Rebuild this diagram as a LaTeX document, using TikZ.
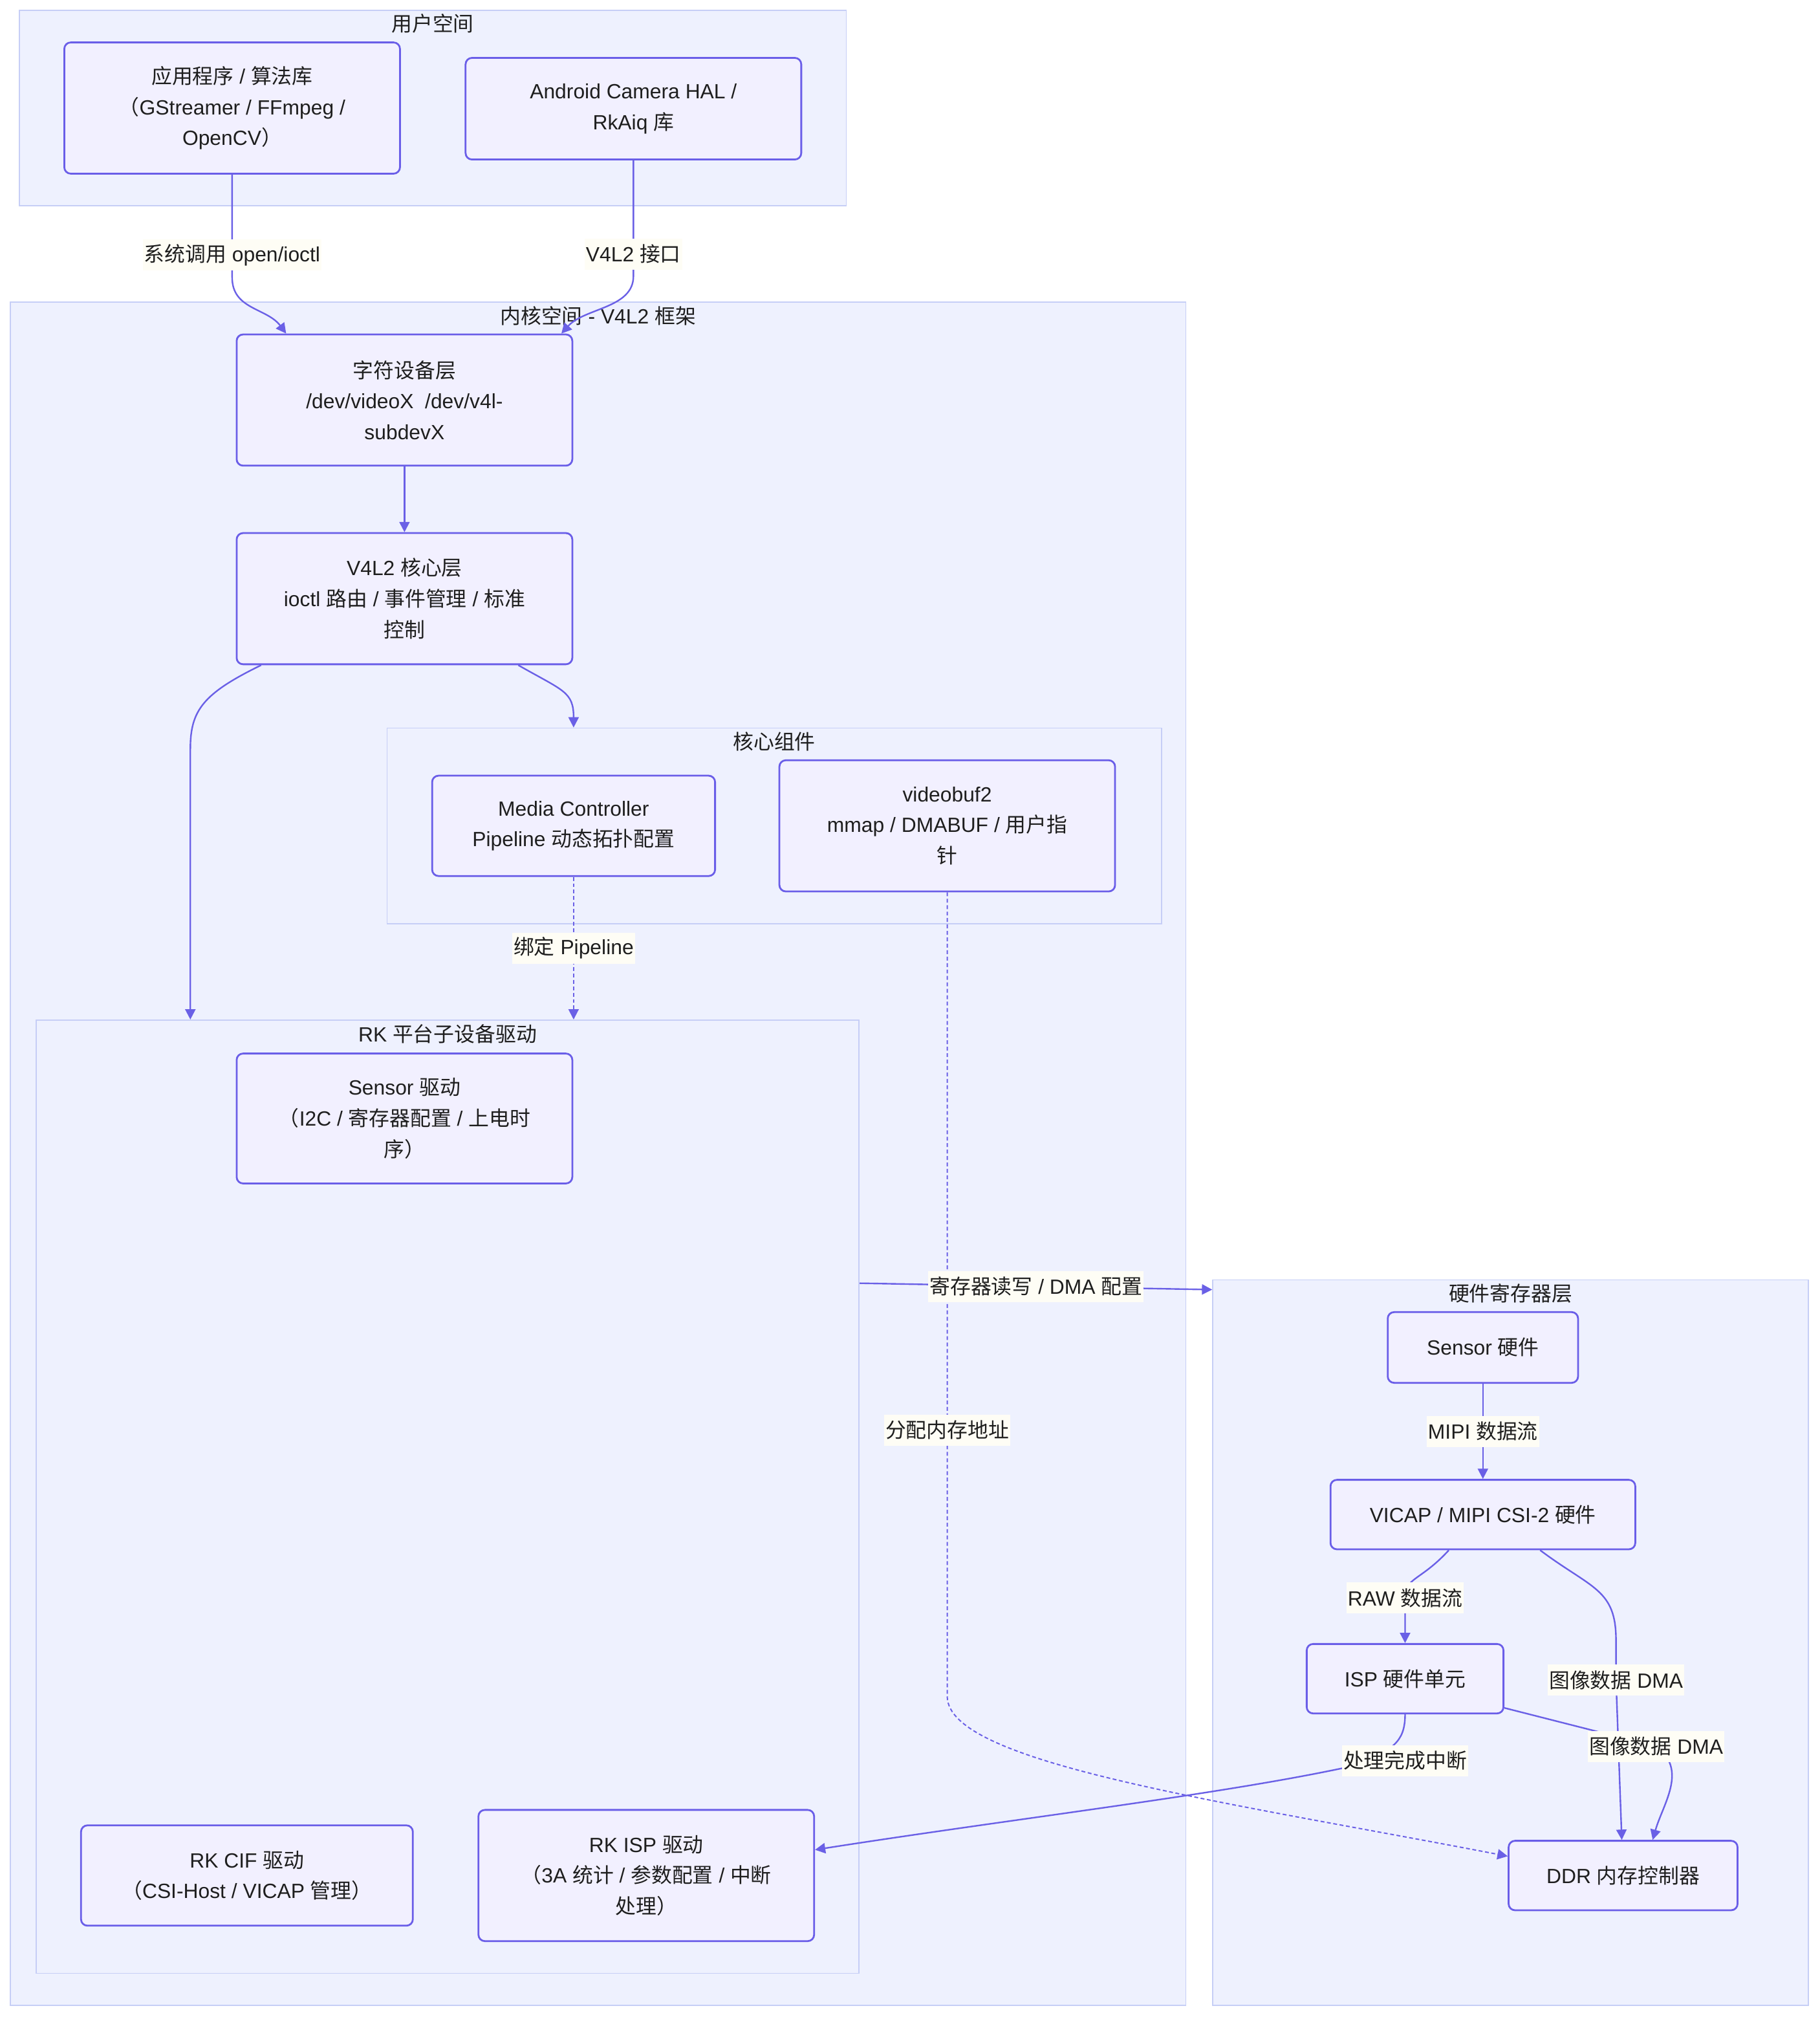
\documentclass[tikz,border=0pt]{standalone}
\usepackage{fontspec}
\setmainfont{Liberation Sans}
\newfontfamily\cjkfont{Noto Sans CJK SC}
\newfontfamily\latinfont{Liberation Sans}
\usetikzlibrary{arrows.meta,positioning}
\definecolor{grpfill}{RGB}{238,241,254}
\definecolor{grpline}{RGB}{198,206,246}
\definecolor{boxfill}{RGB}{242,240,255}
\definecolor{boxline}{RGB}{106,94,232}
\definecolor{edgecol}{RGB}{106,96,230}
\definecolor{lblfill}{RGB}{254,253,245}
\definecolor{ink}{RGB}{30,30,30}
% switch to the CJK font for Han characters and full-width brackets
\XeTeXinterchartokenstate=1
\newXeTeXintercharclass\cjkclass
\newcount\cjkcode
\cjkcode="4E00
\loop
  \XeTeXcharclass\cjkcode=\cjkclass
  \ifnum\cjkcode<"9FFF \advance\cjkcode by 1
\repeat
\XeTeXcharclass"FF08=\cjkclass
\XeTeXcharclass"FF09=\cjkclass
\XeTeXinterchartoks 0 \cjkclass={\cjkfont}
\XeTeXinterchartoks 4095 \cjkclass={\cjkfont}
\XeTeXinterchartoks \cjkclass 0={\latinfont}
\XeTeXinterchartoks \cjkclass 4095={\latinfont}

\begin{document}
\begin{tikzpicture}[
  x=1pt,y=-1pt,
  every node/.style={font=\fontsize{16}{24}\selectfont,text=ink},
  group/.style={draw=grpline,fill=grpfill,line width=0.9pt,inner sep=0pt},
  box/.style={draw=boxline,fill=boxfill,line width=1.4pt,rounded corners=5pt,align=center,inner sep=0pt},
  lbl/.style={fill=lblfill,inner xsep=1pt,inner ysep=0pt,minimum height=24pt},
  flow/.style={-{Triangle[length=8pt,width=8pt]},draw=edgecol,line width=1.2pt},
  weak/.style={flow,line width=1pt,dash pattern=on 3pt off 2pt}
]
\useasboundingbox (0,0) rectangle (1415,1568);
\fill[white] (0,0) rectangle (1415,1568);

% groups
\node[group,minimum width=643pt,minimum height=152pt] (user) at (336.5,84) {};
\node[group,minimum width=914pt,minimum height=1324pt] (kernel) at (465,897) {};
\node[group,minimum width=602pt,minimum height=152pt] (corecomp) at (602,642) {};
\node[group,minimum width=640pt,minimum height=741pt] (rk) at (348,1163.5) {};
\node[group,minimum width=463pt,minimum height=564pt] (hw) at (1174.5,1277) {};
\node at ([yshift=-11pt]user.north) {用户空间};
\node at ([yshift=-11pt]kernel.north) {内核空间 - V4L2 框架};
\node at ([yshift=-11pt]corecomp.north) {核心组件};
\node at ([yshift=-11pt]rk.north) {RK 平台子设备驱动};
\node at ([yshift=-11pt]hw.north) {硬件寄存器层};

% nodes
\node[box,minimum width=261pt,minimum height=102pt] (app) at (180.5,84) {应用程序 / 算法库\\（GStreamer / FFmpeg /\\OpenCV）};
\node[box,minimum width=261pt,minimum height=79pt] (hal) at (492.5,84.5) {Android Camera HAL /\\RkAiq 库};
\node[box,minimum width=261pt,minimum height=102pt] (chardev) at (314.5,311) {字符设备层\\/dev/videoX~ /dev/v4l-\\subdevX};
\node[box,minimum width=261pt,minimum height=102pt,below=51pt of chardev] (core) {V4L2 核心层\\ioctl 路由 / 事件管理 / 标准\\控制};
\node[box,minimum width=220pt,minimum height=78pt] (mc) at (446,642) {Media Controller\\Pipeline 动态拓扑配置};
\node[box,minimum width=261pt,minimum height=102pt] (vb2) at (736.5,642) {videobuf2\\mmap / DMABUF / 用户指\\针};
\node[box,minimum width=261pt,minimum height=101pt] (sensordrv) at (314.5,869.5) {Sensor 驱动\\（I2C / 寄存器配置 / 上电时\\序）};
\node[box,minimum width=258pt,minimum height=78pt] (cif) at (192,1458) {RK CIF 驱动\\（CSI-Host / VICAP 管理）};
\node[box,minimum width=261pt,minimum height=102pt] (ispdrv) at (502.5,1458) {RK ISP 驱动\\（3A 统计 / 参数配置 / 中断\\处理）};
\node[box,minimum width=148pt,minimum height=55pt] (sensorhw) at (1153,1047.5) {Sensor 硬件};
\node[box,minimum width=237pt,minimum height=54pt,below=74pt of sensorhw] (vicap) {VICAP / MIPI CSI-2 硬件};
\node[box,minimum width=153pt,minimum height=54pt] (isphw) at (1092.5,1305) {ISP 硬件单元};
\node[box,minimum width=178pt,minimum height=54pt] (ddr) at (1262,1458) {DDR 内存控制器};

% connectors
\draw[flow] (app.south) -- ++(0,80) node[lbl,pos=0.78]{系统调用 open/ioctl}
  .. controls +(0,25) and +(-15,-20) .. ([xshift=-92pt]chardev.north);
\draw[flow] (hal.south) -- ++(0,90) node[lbl,pos=0.81]{V4L2 接口}
  .. controls +(0,25) and +(18,-20) .. ([xshift=122pt]chardev.north);
\draw[flow] (chardev) -- (core);
\draw[flow] ([xshift=-111.5pt]core.south) .. controls +(-45,22) and +(0,-30) .. ++(-55,65)
  -- ([xshift=-200pt]rk.north);
\draw[flow] ([xshift=88.5pt]core.south) .. controls +(35,20) and +(0,-28) .. ([xshift=-156pt]corecomp.north);
\draw[weak] (mc) -- node[lbl]{绑定 Pipeline} (mc.south |- rk.north);
\draw[weak] (vb2.south) -- ++(0,625) node[lbl,pos=0.669]{分配内存地址}
  .. controls +(0,52) and +(-223,-43) .. ([yshift=15pt]ddr.west);
\draw[flow] ([yshift=-205pt]rk.north east) -- node[lbl]{寄存器读写 / DMA 配置} ([yshift=-8pt]hw.north west);
\draw[flow] (sensorhw) -- node[lbl]{MIPI 数据流} (vicap);
\draw[flow] ([xshift=-26.5pt]vicap.south) .. controls +(-22,24) and +(0,-16) .. ++(-34,37)
  node[lbl]{RAW 数据流} -- (isphw);
\draw[flow] ([xshift=44.5pt]vicap.south) .. controls +(40,30) and +(0,-40) .. ++(59,70)
  -- ++(0,31) node[lbl]{图像数据 DMA} -- ([xshift=-1pt]ddr.north);
\draw[flow] ([yshift=5pt]isphw.south east) -- ++(118,30) node[lbl]{图像数据 DMA}
  .. controls +(25,18) and +(8,-28) .. ([xshift=23pt]ddr.north);
\draw[flow] (isphw.south) .. controls +(0,22) and +(30,-12) .. ++(-40,40)
  node[lbl,xshift=40pt,yshift=4pt]{处理完成中断}
  .. controls +(-100,22) and +(160,-25) .. ([yshift=20pt]ispdrv.east);
\end{tikzpicture}
\end{document}
